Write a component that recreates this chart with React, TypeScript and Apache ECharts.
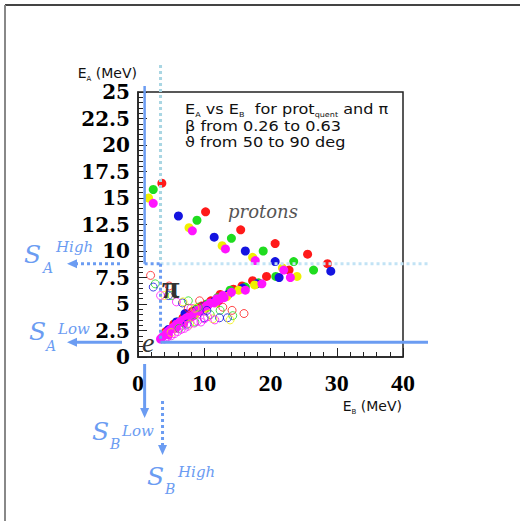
import React, { useEffect, useRef } from "react";
import * as echarts from "echarts";

// ---- data (E_B, E_A) in MeV ----
const protonRed = [[3.6, 16.4], [10.2, 13.7], [15.5, 12.0], [20.7, 10.7], [25.6, 9.7], [28.6, 8.8], [22.8, 8.2]];
const protonGreen = [[2.3, 15.8], [8.9, 12.9], [14.1, 11.2], [18.9, 10.0], [23.5, 9.0], [26.5, 8.2], [20.8, 7.6]];
const protonBlue = [[6.1, 13.3], [11.5, 11.3], [16.2, 10.0], [20.7, 9.0], [21.3, 7.5], [29.1, 8.1]];
const protonYellow = [[1.6, 15.0], [7.7, 12.2], [12.7, 10.5], [17.3, 9.4], [21.8, 8.4], [24.0, 7.6]];
const protonMagenta = [[2.3, 14.5], [8.2, 11.9], [13.2, 10.2], [17.7, 9.1], [22.0, 8.2], [23.0, 7.5]];

const pionRed = [[19.4, 7.6], [17.3, 7.2], [15.7, 6.7], [14.4, 6.4], [12.4, 5.9], [11.0, 5.3], [9.6, 4.8], [8.2, 4.3], [6.8, 3.7], [5.4, 3.1], [4.2, 2.4]];
const pionGreen = [[18.2, 7.0], [16.2, 6.6], [13.9, 6.3], [12.0, 5.6], [10.4, 5.0], [8.8, 4.5], [7.4, 3.9], [6.0, 3.3], [4.8, 2.6]];
const pionBlue = [[17.9, 6.9], [15.8, 6.5], [13.6, 5.9], [11.6, 5.3], [10.0, 4.8], [8.5, 4.3], [7.1, 4.1], [5.8, 3.3], [4.6, 2.6]];
const pionYellow = [[17.6, 6.8], [15.2, 6.3], [13.4, 5.7], [11.8, 5.1], [10.2, 4.6], [8.6, 4.0], [7.0, 3.5], [5.6, 2.9], [4.2, 2.2]];
const pionMagenta = [
  [18.7, 6.9], [16.2, 6.3], [14.1, 6.1], [13.0, 5.6], [12.2, 5.3], [11.5, 5.1], [10.9, 5.1], [10.2, 4.8],
  [9.6, 4.6], [9.0, 4.4], [8.4, 4.2], [7.8, 3.9], [7.3, 3.7], [6.8, 3.5], [6.3, 3.3], [5.8, 3.1],
  [5.3, 2.8], [4.9, 2.6], [4.5, 2.4], [4.1, 2.1], [3.7, 1.9], [3.4, 1.7], [11.9, 5.5], [10.6, 4.9],
  [9.3, 4.3], [8.1, 3.8], [6.9, 3.2], [5.7, 2.7], [4.6, 2.1], [12.8, 5.8],
];

const openRed = [[1.9, 7.7], [4.7, 6.7], [9.3, 5.3], [12.8, 4.7], [14.2, 4.4], [16.0, 4.1], [7.6, 4.6]];
const openGreen = [[2.6, 6.9], [5.1, 5.8], [7.6, 5.3], [9.1, 4.7], [10.9, 4.0], [14.3, 3.9], [8.6, 3.3], [12.4, 4.4], [6.2, 2.7]];
const openBlue = [[2.3, 6.6], [4.6, 5.8], [6.7, 5.1], [10.0, 3.7], [12.3, 3.7], [13.5, 3.7], [7.4, 3.1], [10.4, 4.4]];
const openYellow = [[4.0, 5.8], [8.6, 4.6], [11.3, 3.6], [13.9, 3.5], [7.8, 3.1], [6.8, 5.2], [5.0, 2.3]];
const openMagenta = [
  [3.4, 5.8], [5.8, 5.2], [8.0, 4.6], [11.6, 3.5], [9.5, 3.3], [6.8, 3.0], [4.0, 1.7], [4.5, 1.9],
  [5.0, 2.0], [5.5, 2.2], [6.0, 2.4], [6.5, 2.6], [7.0, 2.7], [7.5, 2.9], [8.5, 3.2], [9.0, 3.4],
  [10.0, 3.6], [10.5, 3.8],
];

// thresholds (MeV)
const sALow = 1.4;
const sAHigh = 8.8;
const sBLow = 1.0;
const sBHigh = 3.4;

const RED = "#ff1a1a";
const GREEN = "#1fdc1f";
const BLUE = "#1414e0";
const YELLOW = "#f0f000";
const MAGENTA = "#ff14ff";
const ANN = "#6b9cf2";
const LIGHT_V = "#a9d6e3";
const LIGHT_H = "#c2e3f5";

function filled(name: string, data: number[][], color: string) {
  return {
    name, type: "scatter", data, symbol: "circle", symbolSize: 9, silent: true,
    itemStyle: { color, opacity: 1 },
  };
}
function open(name: string, data: number[][], color: string) {
  return {
    name, type: "scatter", data, symbol: "circle", symbolSize: 8, silent: true,
    itemStyle: { color: "rgba(0,0,0,0)", borderColor: color, borderWidth: 1 },
  };
}

export default function App() {
  const ref = useRef<HTMLDivElement>(null);
  useEffect(() => {
    const chart = echarts.init(ref.current!, null, { renderer: "svg", width: 520, height: 521 });
    const tickStyle = { color: "#222", width: 1 };
    chart.setOption({
      animation: false,
      backgroundColor: "#fff",
      grid: { left: 138, top: 92, width: 265, height: 265, show: true, borderColor: "#222", borderWidth: 1.5, backgroundColor: "transparent" },
      xAxis: {
        type: "value", min: 0, max: 40, interval: 10,
        axisLine: { show: true, lineStyle: { color: "#222", width: 1.5 } },
        axisTick: { show: true, inside: true, length: 9, lineStyle: tickStyle },
        minorTick: { show: true, splitNumber: 5, length: 5, lineStyle: tickStyle },
        splitLine: { show: false },
        axisLabel: { fontFamily: "Liberation Serif", fontWeight: "bold", fontSize: 24, color: "#000", margin: 14 },
      },
      yAxis: {
        type: "value", min: 0, max: 25, interval: 2.5,
        axisLine: { show: true, lineStyle: { color: "#222", width: 1.5 } },
        axisTick: { show: true, inside: true, length: 9, lineStyle: tickStyle },
        minorTick: { show: true, splitNumber: 5, length: 5, lineStyle: tickStyle },
        splitLine: { show: false },
        axisLabel: { fontFamily: "DejaVu Serif", fontWeight: "bold", fontSize: 20, color: "#000", margin: 8 },
      },
      series: [
        filled("red", [...protonRed, ...pionRed], RED),
        filled("green", [...protonGreen, ...pionGreen], GREEN),
        filled("blue", [...protonBlue, ...pionBlue], BLUE),
        filled("yellow", [...protonYellow, ...pionYellow], YELLOW),
        filled("magenta", [...protonMagenta, ...pionMagenta], MAGENTA),
        open("red open", openRed, RED),
        open("green open", openGreen, GREEN),
        open("blue open", openBlue, BLUE),
        open("yellow open", openYellow, YELLOW),
        open("magenta open", openMagenta, MAGENTA),
      ],
    });

    const px = (x: number, y: number) => chart.convertToPixel({ gridIndex: 0 }, [x, y]) as number[];
    const yH = px(0, sAHigh)[1];
    const yL = px(0, sALow)[1];
    const xL = px(sBLow, 0)[0];
    const xH = px(sBHigh, 0)[0];

    const line = (x1: number, y1: number, x2: number, y2: number, color: string, w: number, dash?: number[]) => ({
      type: "line", silent: true, z: 50,
      shape: { x1, y1, x2, y2 },
      style: { stroke: color, lineWidth: w, lineDash: dash || null },
    });
    const poly = (points: number[][], color: string) => ({
      type: "polygon", silent: true, z: 50, shape: { points }, style: { fill: color },
    });
    const txt = (x: number, y: number, text: string, font: any, extra: any = {}) => ({
      type: "text", silent: true, z: 60, x, y,
      style: { text, verticalAlign: "middle", align: "left", ...font, ...extra },
    });
    const sFont = { fontFamily: "DejaVu Serif", fontStyle: "italic", fontSize: 25, fill: ANN };
    const subFont = { fontFamily: "DejaVu Serif", fontStyle: "italic", fontSize: 14, fill: ANN };
    const supFont = { fontFamily: "DejaVu Serif", fontStyle: "italic", fontSize: 15, fill: ANN };
    const sans = { fontFamily: "DejaVu Sans", fontSize: 14, fill: "#111" };
    const rich = {
      n: { fontFamily: "DejaVu Sans", fontSize: 14, lineHeight: 18, verticalAlign: "middle", fill: "#111" },
      s: { fontFamily: "DejaVu Sans", fontSize: 7, lineHeight: 14, verticalAlign: "bottom", fill: "#111" },
    };
    const D = [3, 3];

    chart.setOption({
      graphic: [
        // page frame
        line(5, 5, 520, 5, "#444", 2),
        line(5, 5, 5, 521, "#888", 2),
        // threshold lines
        line(xH, 65, xH, yH, LIGHT_V, 3, D),
        line(xH, yH, 428, yH, LIGHT_H, 3, D),
        line(xL, 86, xL, yH, ANN, 2.5),
        line(xL, yH, xH, yH, ANN, 3, D),
        line(xH, yH, xH, yL, ANN, 3, D),
        line(xH, yL, 428, yL, ANN, 3),
        // arrows
        line(120, yH, 74, yH, ANN, 3, D),
        poly([[67, yH], [77, yH - 4.5], [77, yH + 4.5]], ANN),
        line(122, yL, 74, yL, ANN, 3),
        poly([[67, yL], [77, yL - 4.5], [77, yL + 4.5]], ANN),
        line(xL, 364, xL, 410, ANN, 3),
        poly([[xL, 418], [xL - 4.5, 408], [xL + 4.5, 408]], ANN),
        line(xH + 2, 401, xH + 2, 447, ANN, 3, D),
        poly([[xH + 2, 455], [xH - 2.5, 445], [xH + 6.5, 445]], ANN),
        // S labels
        txt(24, 254, "S", sFont), txt(43, 268, "A", subFont), txt(56, 247, "High", supFont),
        txt(29, 331, "S", sFont), txt(46, 346, "A", subFont), txt(58, 329, "Low", supFont),
        txt(92, 431, "S", sFont), txt(110, 444, "B", subFont), txt(122, 431, "Low", supFont),
        txt(147, 476, "S", sFont), txt(165, 489, "B", subFont), txt(178, 472, "High", supFont),
        // axis names
        {
          type: "text", silent: true, z: 60, x: 137, y: 73,
          style: { text: "{n|E}{s|A}{n| (MeV)}", rich, align: "right", verticalAlign: "middle" },
        },
        {
          type: "text", silent: true, z: 60, x: 402, y: 406,
          style: { text: "{n|E}{s|B}{n| (MeV)}", rich, align: "right", verticalAlign: "middle" },
        },
        // info box
        {
          type: "group", x: 185, y: 0, scaleX: 1.15, silent: true, z: 60,
          children: [
            { type: "text", x: 0, y: 109, style: { text: "{n|E}{s|A}{n| vs E}{s|B}{n|  for prot}{s|quent}{n| and π}", rich, align: "left", verticalAlign: "middle" } },
            { type: "text", x: 0, y: 126, style: { text: "β from 0.26 to 0.63", ...sans, align: "left", verticalAlign: "middle" } },
            { type: "text", x: 0, y: 142, style: { text: "ϑ from 50 to 90 deg", ...sans, align: "left", verticalAlign: "middle" } },
          ],
        },
        // region labels
        txt(228, 211, "protons", { fontFamily: "DejaVu Serif", fontStyle: "italic", fontSize: 18, fill: "#555" }),
        txt(162, 287, "π", { fontFamily: "Liberation Serif", fontWeight: "bold", fontSize: 32, fill: "#333" }),
        txt(142, 342, "e", { fontFamily: "Liberation Serif", fontStyle: "italic", fontSize: 28, fill: "#333" }),
      ],
    });
    return () => chart.dispose();
  }, []);
  return (
    <div
      ref={ref}
      style={{ position: "fixed", left: 0, top: 0, width: 520, height: 521, background: "#fff" }}
    />
  );
}
